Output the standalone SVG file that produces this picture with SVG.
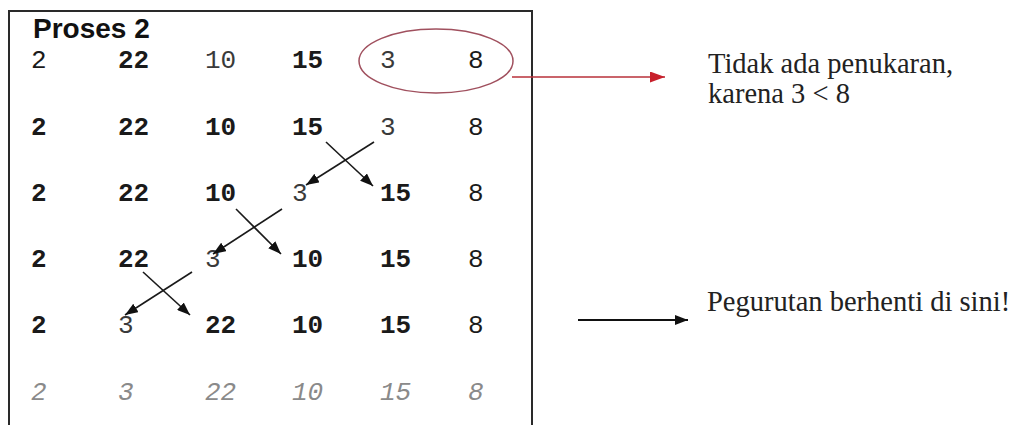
<svg xmlns="http://www.w3.org/2000/svg" width="1019" height="425" viewBox="0 0 1019 425">
  <style>
    .num { font-family: "Liberation Mono", "Courier New", monospace; font-size: 26px; fill: #1a1a1a; }
    .b { font-weight: bold; }
    .lt { fill: #3a3a3a; }
    .last { font-style: italic; fill: #8a8a8a; }
    .title { font-family: "Liberation Sans", Arial, sans-serif; font-size: 28px; font-weight: bold; fill: #111; }
    .note { font-family: "Liberation Serif", "Times New Roman", serif; font-size: 28.5px; fill: #222; }
    .conn { stroke: #1a1a1a; stroke-width: 1.6; fill: none; }
  </style>
  <defs>
    <marker id="ah" markerUnits="userSpaceOnUse" markerWidth="13" markerHeight="10" refX="13" refY="5" orient="auto">
      <path d="M0,0 L13,5 L0,10 z" fill="#111"/>
    </marker>
    <marker id="ahr" markerUnits="userSpaceOnUse" markerWidth="15" markerHeight="11" refX="15" refY="5.5" orient="auto">
      <path d="M0,0 L15,5.5 L0,11 z" fill="#c8202c"/>
    </marker>
  </defs>
  <rect width="1019" height="425" fill="#ffffff"/>

  <g id="frame">
    <rect x="9" y="11" width="523" height="430" fill="none" stroke="#2a2a2a" stroke-width="2"/>
  </g>

  <g id="title">
    <text class="title" x="33" y="38">Proses 2</text>
  </g>

  <g id="row1">
    <text class="num" x="31" y="68">2</text>
    <text class="num b" x="118" y="68">22</text>
    <text class="num lt" x="205" y="68">10</text>
    <text class="num b" x="292" y="68">15</text>
    <text class="num lt" x="380" y="68">3</text>
    <text class="num" x="468" y="68">8</text>
  </g>
  <g id="row2">
    <text class="num b" x="31" y="135">2</text>
    <text class="num b" x="118" y="135">22</text>
    <text class="num b" x="205" y="135">10</text>
    <text class="num b" x="292" y="135">15</text>
    <text class="num lt" x="380" y="135">3</text>
    <text class="num" x="468" y="135">8</text>
  </g>
  <g id="row3">
    <text class="num b" x="31" y="201">2</text>
    <text class="num b" x="118" y="201">22</text>
    <text class="num b" x="205" y="201">10</text>
    <text class="num lt" x="292" y="201">3</text>
    <text class="num b" x="380" y="201">15</text>
    <text class="num" x="468" y="201">8</text>
  </g>
  <g id="row4">
    <text class="num b" x="31" y="267">2</text>
    <text class="num b" x="118" y="267">22</text>
    <text class="num lt" x="205" y="267">3</text>
    <text class="num b" x="292" y="267">10</text>
    <text class="num b" x="380" y="267">15</text>
    <text class="num" x="468" y="267">8</text>
  </g>
  <g id="row5">
    <text class="num b" x="31" y="333">2</text>
    <text class="num lt" x="118" y="333">3</text>
    <text class="num b" x="205" y="333">22</text>
    <text class="num b" x="292" y="333">10</text>
    <text class="num b" x="380" y="333">15</text>
    <text class="num" x="468" y="333">8</text>
  </g>
  <g id="row6">
    <text class="num last" x="31" y="400">2</text>
    <text class="num last" x="118" y="400">3</text>
    <text class="num last" x="205" y="400">22</text>
    <text class="num last" x="292" y="400">10</text>
    <text class="num last" x="380" y="400">15</text>
    <text class="num last" x="468" y="400">8</text>
  </g>

  <g id="highlight">
    <ellipse cx="436" cy="61" rx="77" ry="32" fill="none" stroke="#a0505e" stroke-width="1.5"/>
  </g>

  <g id="note1">
    <text class="note" x="708" y="73">Tidak ada penukaran,</text>
    <text class="note" x="708" y="103">karena 3 &lt; 8</text>
  </g>
  <g id="note2">
    <text class="note" x="707" y="311">Pegurutan berhenti di sini!</text>
  </g>

  <g id="connectors">
    <line class="conn" x1="326" y1="142" x2="373" y2="186" marker-end="url(#ah)"/>
    <line class="conn" x1="374" y1="142" x2="306" y2="185" marker-end="url(#ah)"/>
    <line class="conn" x1="236" y1="209" x2="281" y2="254" marker-end="url(#ah)"/>
    <line class="conn" x1="282" y1="209" x2="213" y2="254" marker-end="url(#ah)"/>
    <line class="conn" x1="143" y1="272" x2="190" y2="315" marker-end="url(#ah)"/>
    <line class="conn" x1="192" y1="272" x2="125" y2="315" marker-end="url(#ah)"/>
    <line x1="512" y1="77" x2="665" y2="77" stroke="#b8303a" stroke-width="1.6" marker-end="url(#ahr)"/>
    <line x1="578" y1="320" x2="688" y2="320" stroke="#111" stroke-width="1.8" marker-end="url(#ah)"/>
  </g>
</svg>
